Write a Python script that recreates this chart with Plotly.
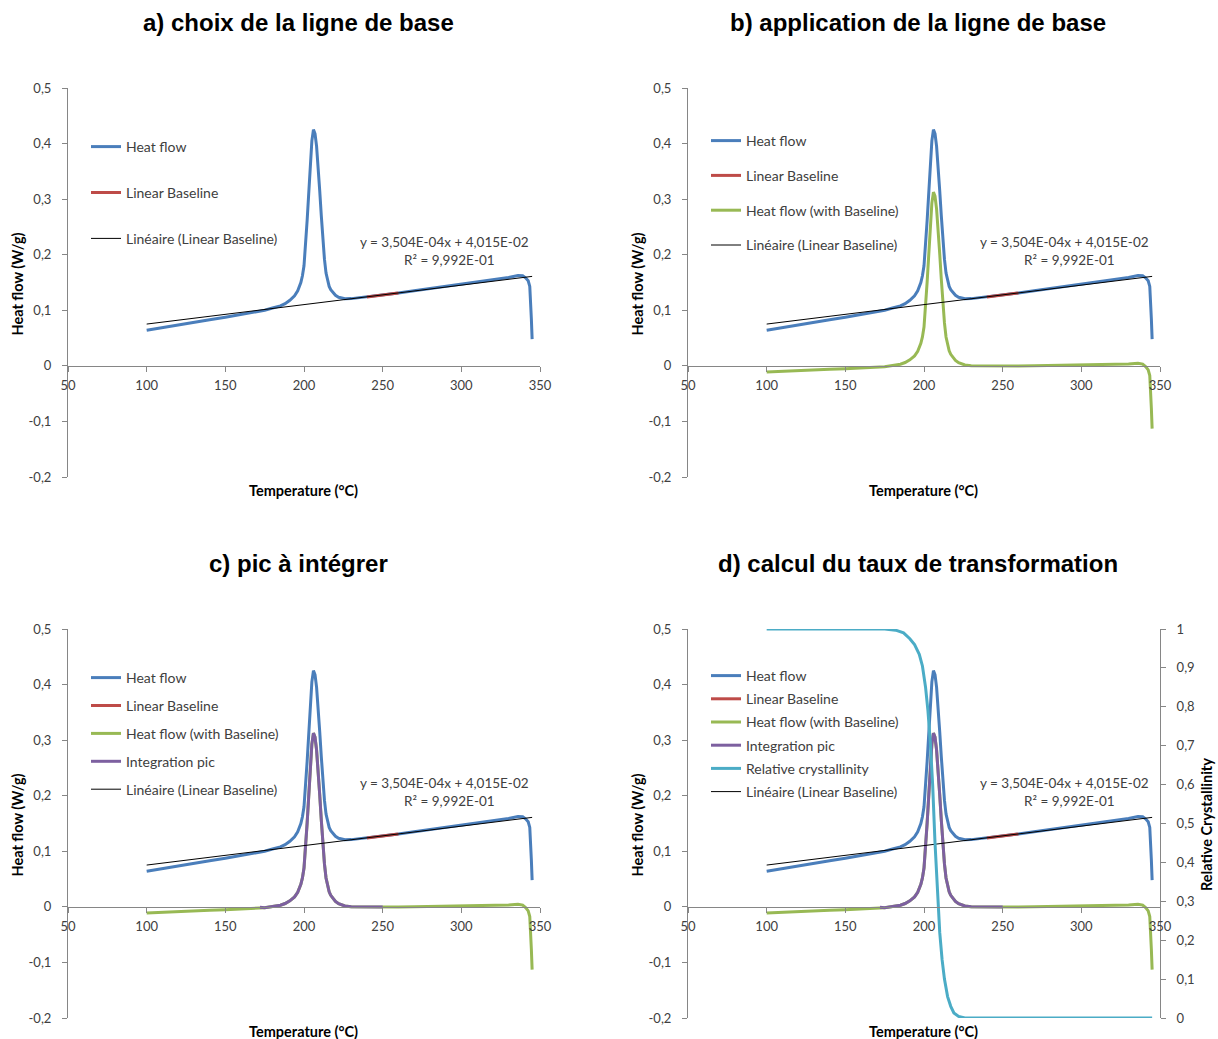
import plotly.graph_objects as go

W, H = 1218, 1039
OFF = 0  # body margin removed by post_script below

# ---------------- data ----------------
temp = [100, 110, 120, 130, 140, 150, 160, 170, 175, 180, 185, 188, 191, 194, 196, 198, 199, 200,
        201, 202, 203, 204, 205, 206, 207, 208, 209, 210, 211, 212, 213, 214, 215, 216, 217, 218,
        220, 222, 224, 226, 230, 240, 250, 260, 270, 280, 290, 300, 310, 320, 330, 336, 339, 341,
        342.5, 343.5, 344, 344.5, 345]
heat_flow = [0.064, 0.069, 0.074, 0.0785, 0.083, 0.0875, 0.092, 0.097, 0.100, 0.104, 0.108, 0.112,
             0.118, 0.126, 0.135, 0.150, 0.162, 0.180, 0.215, 0.262, 0.310, 0.360, 0.405, 0.425,
             0.418, 0.395, 0.360, 0.315, 0.270, 0.228, 0.192, 0.167, 0.152, 0.143, 0.137, 0.133,
             0.127, 0.1235, 0.1215, 0.1208, 0.121, 0.124, 0.1275, 0.131, 0.135, 0.139, 0.1425,
             0.146, 0.150, 0.154, 0.159, 0.1625, 0.162, 0.158, 0.153, 0.143, 0.120, 0.085, 0.048]
heat_flow_bl = [-0.0112, -0.0097, -0.0082, -0.0072, -0.0062, -0.0052, -0.0042, -0.0027, -0.0015,
                0.0008, 0.0030, 0.0060, 0.0109, 0.0179, 0.0262, 0.0405, 0.0521, 0.0698, 0.1044,
                0.1511, 0.1987, 0.2484, 0.2930, 0.3127, 0.3053, 0.2820, 0.2466, 0.2013, 0.1559,
                0.1136, 0.0772, 0.0519, 0.0365, 0.0272, 0.0208, 0.0165, 0.0098, 0.0056, 0.0029,
                0.0015, 0.0003, -0.0003, -0.0003, -0.0003, 0.0002, 0.0007, 0.0007, 0.0007, 0.0012,
                0.0017, 0.0032, 0.0046, 0.0031, -0.0016, -0.0072, -0.0175, -0.0407, -0.0759, -0.1130]

pic_temp = [172, 175, 180, 185, 188, 191, 194, 196, 198, 199, 200, 201, 202, 203, 204, 205, 206,
            207, 208, 209, 210, 211, 212, 213, 214, 215, 216, 217, 218, 220, 222, 224, 226, 230,
            240, 250]
pic_val = [-0.0006, -0.0015, 0.0008, 0.0030, 0.0060, 0.0109, 0.0179, 0.0262, 0.0405, 0.0521,
           0.0698, 0.1044, 0.1511, 0.1987, 0.2484, 0.2930, 0.3127, 0.3053, 0.2820, 0.2466, 0.2013,
           0.1559, 0.1136, 0.0772, 0.0519, 0.0365, 0.0272, 0.0208, 0.0165, 0.0098, 0.0056, 0.0029,
           0.0015, 0.0003, -0.0003, -0.0003]

baseline_temp = [240, 250, 260]
baseline_val = [0.124, 0.1275, 0.131]

trend_temp = [100, 345]
trend_val = [0.0752, 0.1610]

cryst_temp = [100, 175, 182, 187, 191, 194, 197, 199, 201, 202.5, 204, 205.5, 207, 208.5, 210,
              211.5, 213, 215, 217, 219, 222, 226, 345]
cryst_val = [1, 1, 0.997, 0.99, 0.975, 0.96, 0.935, 0.905, 0.85, 0.79, 0.71, 0.6, 0.45, 0.32,
             0.22, 0.15, 0.1, 0.055, 0.03, 0.013, 0.004, 0, 0]

x_ticks = [50, 100, 150, 200, 250, 300, 350]
y_ticks = [-0.2, -0.1, 0, 0.1, 0.2, 0.3, 0.4, 0.5]
y_ticktext = ["-0,2", "-0,1", "0", "0,1", "0,2", "0,3", "0,4", "0,5"]
y2_ticks = [0, 0.1, 0.2, 0.3, 0.4, 0.5, 0.6, 0.7, 0.8, 0.9, 1]
y2_ticktext = ["0", "0,1", "0,2", "0,3", "0,4", "0,5", "0,6", "0,7", "0,8", "0,9", "1"]

titles = ["a) choix de la ligne de base", "b) application de la ligne de base",
          "c) pic à intégrer", "d) calcul du taux de transformation"]
equation = "y = 3,504E-04x + 4,015E-02"
r2 = "R² = 9,992E-01"

# ---------------- styling ----------------
BLUE, RED, GREEN, PURPLE, CYAN = "#4A7EBB", "#BE4B48", "#98B954", "#7D60A0", "#4BACC6"
AXC = "#868686"
TXT = "#404040"
FONT = "Lato"

def px_x(p):
    return (p - OFF) / W

def px_y(p):
    return 1 - (p - OFF) / H

panels = [
    # plot area in reference pixels
    dict(l=68, r=540, t=88, b=477),
    dict(l=688, r=1160, t=88, b=477),
    dict(l=68, r=540, t=629, b=1018),
    dict(l=688, r=1160, t=629, b=1018),
]

fig = go.Figure()
layout = dict(width=W, height=H, autosize=False,
              margin=dict(l=0, r=0, t=0, b=0, pad=0, autoexpand=False),
              plot_bgcolor="white", paper_bgcolor="white", showlegend=True,
              font=dict(family=FONT, size=13, color=TXT), annotations=[])

legend_cfg = [
    dict(first=146, line_x=91, gap=24.7),
    dict(first=140, line_x=711, gap=13.6),
    dict(first=677, line_x=91, gap=6.7),
    dict(first=675, line_x=711, gap=2),
]

for i, p in enumerate(panels):
    n = "" if i == 0 else str(i + 1)
    ydom = [px_y(p["b"]), px_y(p["t"])]
    zero_px = p["t"] + (p["b"] - p["t"]) * 0.5 / 0.7
    layout["xaxis" + n] = dict(domain=[px_x(p["l"]), px_x(p["r"])], range=[50, 350],
                               anchor="free", position=px_y(zero_px), automargin=False,
                               showline=True, linecolor=AXC, linewidth=1,
                               ticks="outside", ticklen=5, tickcolor=AXC,
                               tickvals=x_ticks, showgrid=False, zeroline=False,
                               ticklabelstandoff=3,
                               tickfont=dict(family=FONT, size=13, color=TXT))
    layout["yaxis" + n] = dict(domain=ydom, range=[-0.2, 0.5], anchor="x" + n, automargin=False,
                               showline=True, linecolor=AXC, linewidth=1,
                               ticks="outside", ticklen=5, tickcolor=AXC,
                               tickvals=y_ticks, ticktext=y_ticktext, showgrid=False,
                               zeroline=False, ticklabelstandoff=8,
                               tickfont=dict(family=FONT, size=13, color=TXT))
    lg = legend_cfg[i]
    layout["legend" + n] = dict(x=px_x(lg["line_x"] - 5), y=px_y(lg["first"] - 15),
                                xanchor="left", yanchor="top",
                                bgcolor="rgba(0,0,0,0)", borderwidth=0,
                                tracegroupgap=lg["gap"], traceorder="grouped",
                                font=dict(family=FONT, size=14, color=TXT))
    # titles
    cx = (p["l"] + p["r"]) / 2 - 6
    layout["annotations"].append(dict(text="<b>" + titles[i] + "</b>", xref="paper", yref="paper",
                                      x=px_x(cx), y=px_y(p["t"] - 66), showarrow=False,
                                      xanchor="center", yanchor="middle",
                                      font=dict(family="Liberation Sans", size=24, color="#000")))
    layout["annotations"].append(dict(text="<b>Heat flow (W/g)</b>", xref="paper", yref="paper",
                                      x=px_x(p["l"] - 51), y=px_y((p["t"] + p["b"]) / 2 + 2),
                                      textangle=-90, showarrow=False,
                                      xanchor="center", yanchor="middle",
                                      font=dict(family=FONT, size=14.5, color="#000")))
    layout["annotations"].append(dict(text="<b>Temperature (°C)</b>", xref="paper", yref="paper",
                                      x=px_x(p["l"] + 235), y=px_y(p["b"] + 13),
                                      showarrow=False, xanchor="center", yanchor="middle",
                                      font=dict(family=FONT, size=14.5, color="#000")))
    layout["annotations"].append(dict(text=equation, xref="paper", yref="paper",
                                      x=px_x(p["l"] + 376), y=px_y(p["t"] + 154),
                                      showarrow=False, xanchor="center", yanchor="middle",
                                      font=dict(family=FONT, size=13.5, color=TXT)))
    layout["annotations"].append(dict(text=r2, xref="paper", yref="paper",
                                      x=px_x(p["l"] + 381), y=px_y(p["t"] + 172),
                                      showarrow=False, xanchor="center", yanchor="middle",
                                      font=dict(family=FONT, size=13.5, color=TXT)))

    xa, ya = "x" + n, "y" + n
    leg = "legend" + n

    def add(x, y, name, color, width, rank, yaxis=None):
        fig.add_trace(go.Scatter(x=x, y=y, name=name, mode="lines",
                                 line=dict(color=color, width=width),
                                 xaxis=xa, yaxis=yaxis or ya, legend=leg,
                                 legendgroup=name + n, legendrank=rank, hoverinfo="skip"))

    add(temp, heat_flow, "Heat flow", BLUE, 3, 1)
    add(baseline_temp, baseline_val, "Linear Baseline", RED, 3, 2)
    if i >= 1:
        add(temp, heat_flow_bl, "Heat flow (with Baseline)", GREEN, 3, 3)
    if i >= 2:
        add(pic_temp, pic_val, "Integration pic", PURPLE, 3, 4)
    add(trend_temp, trend_val, "Linéaire (Linear Baseline)", "#000000", 1, 6)
    if i == 3:
        add(cryst_temp, cryst_val, "Relative crystallinity", CYAN, 3, 5, yaxis="y5")

p = panels[3]
layout["yaxis5"] = dict(domain=[px_y(p["b"]), px_y(p["t"])], range=[0, 1], overlaying="y4",
                        anchor="x4", side="right", showline=True, linecolor=AXC, linewidth=1,
                        ticks="outside", ticklen=5, tickcolor=AXC, tickvals=y2_ticks,
                        ticktext=y2_ticktext, showgrid=False, zeroline=False, automargin=False,
                        ticklabelstandoff=8, tickfont=dict(family=FONT, size=13, color=TXT))
layout["annotations"].append(dict(text="<b>Relative Crystallinity</b>", xref="paper", yref="paper",
                                  x=px_x(1206), y=px_y(825), textangle=-90, showarrow=False,
                                  xanchor="center", yanchor="middle",
                                  font=dict(family=FONT, size=14.5, color="#000")))

fig.update_layout(**layout)
fig.write_html("out.html",
               config={"displayModeBar": False},
               post_script="document.body.style.margin='0';"
                           "document.documentElement.style.overflow='hidden';")
